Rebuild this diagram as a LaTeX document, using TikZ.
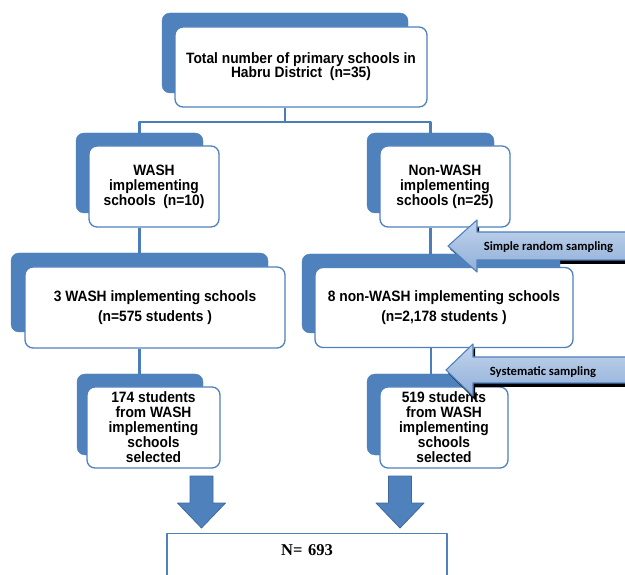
\documentclass[tikz,border=0pt]{standalone}
\usepackage{fontspec}
\setmainfont{Liberation Sans}
\newfontfamily\boxfont[FakeStretch=0.92]{Liberation Sans}
\newfontfamily\calfont{Carlito}
\newfontfamily\timesfont{Liberation Serif}
\usetikzlibrary{calc}
\definecolor{boxblue}{HTML}{4F81BD}
\definecolor{linkblue}{HTML}{4A7EBB}
\definecolor{darkblue}{HTML}{3F6A9E}
\definecolor{arrowtop}{HTML}{C2D4EC}
\definecolor{arrowmid}{HTML}{DCE6F3}
\definecolor{arrowbot}{HTML}{90AFD8}
\begin{document}
\begin{tikzpicture}[x=1pt,y=-1pt, line join=round,
	front/.style={draw=boxblue, line width=1.3pt, fill=white, rounded corners=8pt, align=center, inner sep=0pt, font=\boxfont\bfseries\fontsize{15}{15}\selectfont},
	tab/.style={draw=boxblue, fill=boxblue, rounded corners=8pt, inner sep=0pt},
	link/.style={draw=linkblue, line width=2.2pt},
	dnarrow/.style={fill=boxblue, draw=darkblue, line width=0.8pt},
	sidearrow/.style={draw=boxblue, line width=1.1pt, top color=arrowtop, middle color=arrowmid, bottom color=arrowbot},
	steptext/.style={font=\calfont\bfseries\fontsize{12.6}{14}\selectfont, inner sep=0pt}]
	\useasboundingbox (0,0) rectangle (625,575);
	% bong mui ten ben (duoi cac hop)
	\fill[black] (450,249) -- (479,223) -- (479,235) -- (630,235) -- (630,264) -- (479,264) -- (479,275) -- cycle;
	% hop
	\node[tab, minimum width=246, minimum height=80] (totB) at (285,53) {};
	\node[front, minimum width=252, minimum height=80, font=\boxfont\bfseries\fontsize{15}{14}\selectfont] (tot) at (301,67) {Total number of primary schools in\\Habru District\ \ (n=35)};
	\node[tab, minimum width=127, minimum height=80] (washB) at (139.5,173) {};
	\node[front, minimum width=130, minimum height=81] (wash) at (154,186.5) {WASH\\implementing\\schools\ \ (n=10)};
	\node[tab, minimum width=127, minimum height=80] (nonB) at (430.5,173) {};
	\node[front, minimum width=130, minimum height=81] (non) at (445,186.5) {Non-WASH\\implementing\\schools (n=25)};
	\node[tab, minimum width=257, minimum height=79] (lowWB) at (139.5,292.5) {};
	\node[front, minimum width=260, minimum height=81] (lowW) at (155,307.5) {3 WASH implementing schools\\[5pt](n=575 students )};
	\node[tab, minimum width=258, minimum height=79] (lowNB) at (431,293.5) {};
	\node[front, minimum width=258, minimum height=80] (lowN) at (444,307.5) {8 non-WASH implementing schools\\[5pt](n=2,178 students )};
	\node[tab, minimum width=126, minimum height=81] (selWB) at (140,414.5) {};
	\node[front, minimum width=133, minimum height=81] (selW) at (153.5,427.5) {174 students\\from WASH\\implementing\\schools\\selected};
	\node[tab, minimum width=126, minimum height=81] (selNB) at (430,414.5) {};
	\node[front, minimum width=128, minimum height=81] (selN) at (444,427.5) {519 students\\from WASH\\implementing\\schools\\selected};
	\node[draw=boxblue, line width=1.3pt, fill=white, anchor=north, text width=270, inner xsep=5pt, inner ysep=5pt, align=center,
		text height=16.5pt, text depth=30pt, font=\timesfont\bfseries\fontsize{16.5}{18}\selectfont] (total) at (307,533) {N= 693};
	% duong noi
	\coordinate (split) at (285,122);
	\draw[link] (totB |- tot.south) -- (split) -| (washB.north);
	\draw[link] (split) -| (nonB.north);
	\draw[link] (washB |- wash.south) -- (washB |- lowWB.north);
	\draw[link] (nonB |- non.south) -- (nonB |- lowNB.north);
	\draw[link] (lowWB |- lowW.south) -- (lowWB |- selWB.north);
	\draw[link] (lowNB |- lowN.south) -- (lowNB |- selNB.north);
	% mui ten xuong
	\foreach \ax in {201.5,400}
		\filldraw[dnarrow] (\ax-11.5,476) -- (\ax+11.5,476) -- (\ax+11.5,503) -- (\ax+24,503) -- (\ax,528) -- (\ax-24,503) -- (\ax-11.5,503) -- cycle;
	% mui ten ben
	\fill[black] (448,373) -- (475,348) -- (475,359) -- (630,359) -- (630,387) -- (475,387) -- (475,400) -- cycle;
	\foreach \tx/\ty/\hx/\sw in {448/246/477/14, 446/370/473/13}
		\draw[sidearrow] (\tx,\ty) -- (\hx,\ty-26) -- (\hx,\ty-\sw) -- (630,\ty-\sw) -- (630,\ty+\sw) -- (\hx,\ty+\sw) -- (\hx,\ty+26) -- cycle;
	\node[steptext] (srs) at (548.5,247) {Simple random sampling};
	\node[steptext] (sys) at (543,372) {Systematic sampling};
\end{tikzpicture}
\end{document}
